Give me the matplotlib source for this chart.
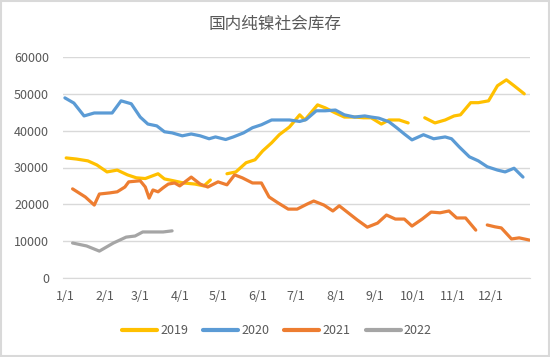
"""
Recreate the 'domestic pure nickel social inventory' seasonal chart.

Output:
    out.png
"""
import numpy as np
import matplotlib.pyplot as plt
from matplotlib.patches import Rectangle

plt.rcParams["font.family"] = ["Noto Sans CJK SC", "DejaVu Sans"]

# Config
OUT_PNG = "out.png"
TITLE = "国内纯镍社会库存"
TEXT_COLOR = "#595959"
GRID_COLOR = "#D9D9D9"

# Month starts (day of year) and their labels
MONTH_DAYS = [0, 31, 59, 90, 120, 151, 181, 212, 243, 273, 304, 334]
MONTH_LABELS = ["1/1", "2/1", "3/1", "4/1", "5/1", "6/1",
                "7/1", "8/1", "9/1", "10/1", "11/1", "12/1"]

# Weekly readings: day of year, tonnes (nan = missing week)
DAYS_2019 = [1, 9, 18, 25, 33, 41, 49, 56, 63, 73, 78, 85, 93, 102, 109, 114, 120,
             127, 134, 142, 149, 155, 162, 168, 176, 184, 188, 198, 204, 212, 219,
             227, 234, 240, 248, 254, 262, 269, 275, 282, 290, 298, 305, 310, 318,
             324, 332, 339, 346, 352, 360]
INV_2019 = [32600, 32300, 31800, 30700, 28800, 29300, 28000, 27200, 27000, 28300,
            26900, 26400, 25800, 25500, 25000, 26600, np.nan, 28300, 28800, 31300,
            32100, 34500, 36700, 38900, 41000, 44300, 42900, 47000, 46200, 44800,
            43700, 43700, 43500, 43500, 41800, 42900, 42900, 42100, np.nan, 43500,
            42100, 42900, 44000, 44300, 47600, 47600, 48100, 52200, 53800, 52200,
            50000]

DAYS_2020 = [0, 7, 15, 23, 31, 37, 44, 52, 59, 65, 72, 78, 84, 92, 99, 106, 113,
             118, 126, 132, 140, 147, 154, 162, 169, 176, 184, 189, 197, 204, 212,
             219, 227, 235, 240, 246, 254, 260, 266, 272, 281, 289, 298, 303, 309,
             317, 324, 331, 339, 345, 352, 359]
INV_2020 = [48900, 47500, 44000, 44800, 44800, 44800, 48100, 47300, 43700, 41800,
            41300, 39700, 39400, 38600, 39100, 38600, 37800, 38300, 37600, 38300,
            39400, 40800, 41600, 42900, 42900, 42900, 42500, 43000, 45400, 45400,
            45600, 44300, 43700, 44000, 43700, 43400, 42400, 40800, 39100, 37500,
            38900, 37800, 38300, 37800, 35600, 32900, 31800, 30200, 29300, 28800,
            29800, 27400]

DAYS_2021 = [6, 16, 23, 27, 35, 41, 47, 50, 59, 63, 66, 69, 73, 77, 81, 86, 90,
             99, 106, 112, 120, 127, 133, 139, 147, 154, 160, 167, 175, 182, 190,
             195, 203, 210, 215, 222, 229, 237, 245, 252, 259, 266, 272, 280, 287,
             294, 301, 307, 314, 322, 326, 331, 337, 342, 350, 356, 364]
INV_2021 = [24200, 22000, 19800, 22800, 23100, 23400, 24700, 26100, 26400, 24700,
            21700, 23900, 23400, 24500, 25500, 25800, 25000, 27400, 25500, 24700,
            26100, 25300, 28000, 27200, 25800, 25800, 22000, 20400, 18700, 18700,
            20100, 20900, 19800, 18200, 19600, 17700, 15800, 13800, 14900, 17100,
            16000, 16000, 14100, 16000, 17900, 17700, 18200, 16300, 16300, 13000,
            np.nan, 14400, 13900, 13600, 10600, 10900, 10300]

DAYS_2022 = [6, 17, 27, 38, 48, 55, 61, 70, 77, 84]
INV_2022 = [9500, 8700, 7300, 9500, 11100, 11400, 12500, 12500, 12500, 12800]

SERIES = [
    ("2019", DAYS_2019, INV_2019, "#FFC000"),
    ("2020", DAYS_2020, INV_2020, "#5B9BD5"),
    ("2021", DAYS_2021, INV_2021, "#ED7D31"),
    ("2022", DAYS_2022, INV_2022, "#A5A5A5"),
]


def main() -> None:
    fig = plt.figure(figsize=(5.5, 3.57), dpi=100)
    fig.patches.append(Rectangle((0.002, 0.003), 0.996, 0.994, transform=fig.transFigure,
                                 fill=False, edgecolor="#D9D9D9", linewidth=1.5))
    ax = fig.add_axes([63 / 550, 79 / 357, 467 / 550, 221 / 357])

    for name, days, inv, color in SERIES:
        ax.plot(days, inv, color=color, linewidth=2.3, label=name,
                solid_joinstyle="round", solid_capstyle="round")

    ax.set_xlim(-1.5, 364.5)
    ax.set_ylim(0, 60000)
    ax.set_yticks(range(0, 60001, 10000))
    ax.set_xticks(MONTH_DAYS)
    ax.set_xticklabels(MONTH_LABELS)
    ax.yaxis.grid(True, color=GRID_COLOR, linewidth=1)
    ax.set_axisbelow(True)
    for side in ["top", "right", "left"]:
        ax.spines[side].set_visible(False)
    ax.spines["bottom"].set_color(GRID_COLOR)
    ax.tick_params(length=0, labelsize=9, labelcolor=TEXT_COLOR)
    ax.tick_params(axis="x", pad=9)
    ax.tick_params(axis="y", pad=10)

    fig.text(0.5, 1 - 24 / 357, TITLE, ha="center", va="center",
             fontsize=12, color=TEXT_COLOR)

    leg = fig.legend(loc="center", bbox_to_anchor=(277 / 550, 1 - 331 / 357), ncol=4,
                     frameon=False, fontsize=9, handlelength=2.8, handletextpad=0.25,
                     columnspacing=1.2)
    for text in leg.get_texts():
        text.set_color(TEXT_COLOR)
    for line in leg.get_lines():
        line.set_linewidth(3)

    fig.savefig(OUT_PNG, dpi=100)
    plt.close(fig)


if __name__ == "__main__":
    main()
